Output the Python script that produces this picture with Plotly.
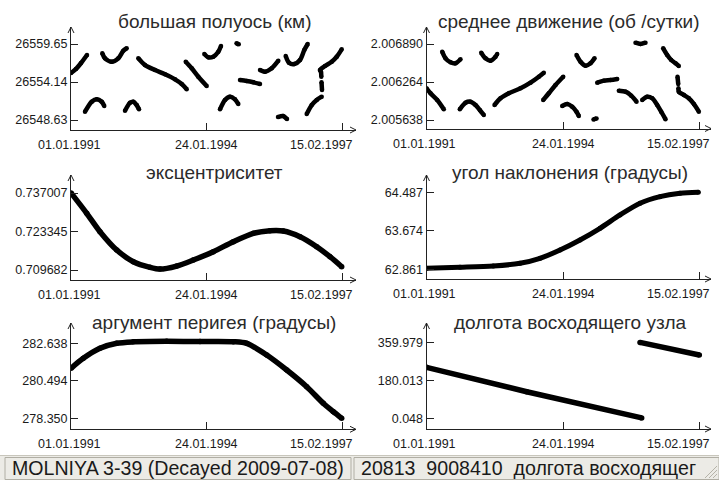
import plotly.graph_objects as go

W, H = 719, 480

# ---------------- data (x = years elapsed since 01.01.1991) ----------------
x_tickvals = [0.0, 3.063, 6.123]
x_ticktext = ["01.01.1991", "24.01.1994", "15.02.1997"]

titles = [
    "большая полуось (км)",
    "среднее движение (об /сутки)",
    "эксцентриситет",
    "угол наклонения (градусы)",
    "аргумент перигея (градусы)",
    "долгота восходящего узла",
]

y_tickvals = [
    [26548.63, 26554.14, 26559.65],
    [2.005638, 2.006264, 2.006890],
    [0.709682, 0.723345, 0.737007],
    [62.861, 63.674, 64.487],
    [278.350, 280.494, 282.638],
    [0.048, 180.013, 359.979],
]
y_ticktext = [
    ["26548.63", "26554.14", "26559.65"],
    ["2.005638", "2.006264", "2.006890"],
    ["0.709682", "0.723345", "0.737007"],
    ["62.861", "63.674", "64.487"],
    ["278.350", "280.494", "282.638"],
    ["0.048", "180.013", "359.979"],
]

semi_major_t = [
    [0, 0.113, 0.226, 0.361],
    [0.316, 0.468, 0.581, 0.694, 0.752],
    [0.707, 0.768, 0.920, 1.069, 1.182, 1.258],
    [1.220, 1.333, 1.408, 1.484, 1.536],
    [1.521, 1.672, 1.898, 2.124, 2.350, 2.501, 2.614],
    [2.592, 2.727, 2.876, 3.066],
    [3.012, 3.102, 3.215, 3.328, 3.389],
    [3.74, 3.79],
    [3.366, 3.479, 3.592, 3.705, 3.780],
    [3.818, 3.970, 4.119, 4.270],
    [4.270, 4.383, 4.535, 4.684],
    [4.677, 4.790, 4.880],
    [4.851, 4.925, 5.045, 5.174, 5.271, 5.348],
    [5.325, 5.438, 5.551, 5.664],
    [5.671, 5.660],
    [5.655, 5.648, 5.626, 5.739, 5.890, 6.003, 6.116],
]
semi_major_v = [
    [26555.45, 26556.03, 26556.89, 26558.06],
    [26549.83, 26551.28, 26551.63, 26551.28, 26550.66],
    [26558.30, 26557.58, 26557.08, 26557.58, 26558.68, 26559.03],
    [26549.98, 26551.14, 26551.28, 26550.80, 26550.18],
    [26557.58, 26556.60, 26555.88, 26555.26, 26554.53, 26553.85, 26553.08],
    [26557.08, 26556.13, 26554.91, 26553.56],
    [26558.20, 26557.72, 26557.81, 26558.53, 26559.36],
    [26559.75, 26559.60],
    [26550.18, 26551.53, 26552.01, 26551.63, 26550.95],
    [26554.43, 26554.29, 26554.10, 26553.85],
    [26555.88, 26555.63, 26556.13, 26557.23],
    [26549.06, 26549.21, 26548.77],
    [26557.91, 26556.94, 26556.75, 26557.33, 26558.78, 26559.65],
    [26549.50, 26550.80, 26551.53, 26552.01],
    [26553.00, 26554.10],
    [26554.90, 26555.59, 26555.88, 26556.46, 26557.08, 26557.81, 26558.88],
]

mean_motion_t = [
    [0, 0.090, 0.240, 0.388],
    [0.352, 0.426, 0.538, 0.650, 0.762],
    [0.747, 0.875, 0.987, 1.099, 1.195, 1.285],
    [1.227, 1.323, 1.435, 1.547, 1.586],
    [1.525, 1.660, 1.846, 2.108, 2.332, 2.519, 2.631],
    [2.617, 2.743, 2.893, 3.066],
    [3.043, 3.155, 3.268, 3.364, 3.416],
    [3.364, 3.454, 3.566, 3.678, 3.768],
    [3.745, 3.813],
    [3.828, 3.976, 4.126, 4.277],
    [4.313, 4.463, 4.591, 4.710],
    [4.687, 4.799, 4.911],
    [4.837, 4.950, 5.062, 5.174, 5.263, 5.360],
    [5.308, 5.398, 5.488, 5.584, 5.658],
    [5.629, 5.645],
    [5.650, 5.658, 5.770, 5.882, 5.995, 6.107],
]
mean_motion_v = [
    [2.006160, 2.006078, 2.005968, 2.005815],
    [2.006763, 2.006654, 2.006589, 2.006572, 2.006638],
    [2.005815, 2.005923, 2.005940, 2.005885, 2.005803, 2.005721],
    [2.006747, 2.006654, 2.006615, 2.006681, 2.006725],
    [2.005885, 2.005996, 2.006078, 2.006160, 2.006253, 2.006351, 2.006417],
    [2.005968, 2.006078, 2.006215, 2.006351],
    [2.005869, 2.005902, 2.005857, 2.005775, 2.005704],
    [2.006709, 2.006598, 2.006533, 2.006572, 2.006654],
    [2.005647, 2.005663],
    [2.006253, 2.006286, 2.006297, 2.006314],
    [2.006121, 2.006104, 2.006039, 2.005940],
    [2.006911, 2.006890, 2.006911],
    [2.005968, 2.006022, 2.005996, 2.005885, 2.005775, 2.005650],
    [2.006819, 2.006709, 2.006626, 2.006572, 2.006528],
    [2.006351, 2.006230],
    [2.006160, 2.006104, 2.006050, 2.005996, 2.005902, 2.005775],
]

ecc_t = [[0, 0.355, 0.655, 1.033, 1.408, 1.785, 2.011, 2.388, 2.763, 3.215, 3.667,
          4.119, 4.496, 4.797, 5.174, 5.551, 5.852, 6.116]]
ecc_v = [[0.73705, 0.72980, 0.72327, 0.71677, 0.71262, 0.71063, 0.71000, 0.71109,
          0.71322, 0.71617, 0.71972, 0.72270, 0.72362, 0.72352, 0.72149, 0.71794,
          0.71439, 0.71084]]

incl_t = [[0, 0.751, 1.498, 2.097, 2.545, 2.994, 3.442, 3.891, 4.339, 4.788, 5.236,
           5.685, 6.096]]
incl_v = [[62.882, 62.903, 62.930, 62.987, 63.093, 63.268, 63.480, 63.727, 64.008,
           64.255, 64.394, 64.466, 64.487]]

argp_t = [[0, 0.278, 0.655, 1.033, 1.408, 2.162, 2.915, 3.667, 3.970, 4.422, 4.874,
           5.325, 5.700, 5.926, 6.116]]
argp_v = [[281.209, 281.780, 282.352, 282.638, 282.72, 282.75, 282.74, 282.73,
           282.638, 281.969, 281.112, 280.157, 279.208, 278.728, 278.350]]

raan_t = [[0, 2.247, 4.826], [4.788, 6.118]]
raan_v = [[241.6, 126.0, 2.0], [359.5, 299.8]]

series_t = [semi_major_t, mean_motion_t, ecc_t, incl_t, argp_t, raan_t]
series_v = [semi_major_v, mean_motion_v, ecc_v, incl_v, argp_v, raan_v]
series_width = [4.5, 4.5, 5.5, 5.0, 5.5, 5.5]

status_left = "MOLNIYA 3-39 (Decayed 2009-07-08)"
status_right = "20813\u00a0\u00a09008410\u00a0\u00a0долгота восходящег"

# ---------------- layout geometry (pixels) ----------------
# (x0, x1, y_top, y_bottom, x_range_end, y_range)
panels = [
    (71.0, 356.0, 27.0, 130.0, 6.439, [26547.18, 26562.12]),
    (426.5, 711.0, 27.0, 128.5, 6.380, [2.005498, 2.00717]),
    (71.0, 356.0, 175.0, 280.0, 6.439, [0.706133, 0.743395]),
    (426.5, 711.0, 175.0, 279.0, 6.380, [62.656, 64.852]),
    (71.0, 356.0, 323.0, 429.3, 6.439, [277.721, 283.799]),
    (426.5, 711.0, 323.0, 429.0, 6.380, [-50.63, 451.4]),
]
title_pos = [(214, 22), (569, 22), (214, 173), (570, 173), (214, 322), (570, 322)]

FONT = "Liberation Sans, Arial, sans-serif"
INK = "#1a1a1a"
TITLE_INK = "#2b2b2b"


def pxx(x):
    return x / W


def pxy(y):
    return 1 - y / H


fig = go.Figure()
layout = dict(
    width=W, height=H, margin=dict(l=0, r=0, t=0, b=0, pad=0),
    paper_bgcolor="white", plot_bgcolor="white", showlegend=False,
    template="none", font=dict(family=FONT, color=INK),
)
annotations = []
shapes = []

for i, (x0, x1, yt, yb, xr, yr) in enumerate(panels):
    n = i + 1
    xa = "x" if n == 1 else f"x{n}"
    ya = "y" if n == 1 else f"y{n}"
    xs, ys = [], []
    for seg_t, seg_v in zip(series_t[i], series_v[i]):
        xs += list(seg_t) + [None]
        ys += list(seg_v) + [None]
    fig.add_trace(go.Scatter(
        x=xs, y=ys, mode="lines+markers", xaxis=xa, yaxis=ya,
        line=dict(color="black", width=series_width[i], shape="spline", smoothing=0.8),
        marker=dict(color="black", size=series_width[i]), connectgaps=False,
        hoverinfo="skip"))
    xkey = "xaxis" if n == 1 else f"xaxis{n}"
    ykey = "yaxis" if n == 1 else f"yaxis{n}"
    layout[xkey] = dict(
        domain=[pxx(x0), pxx(x1)], anchor=ya, range=[0, xr],
        showgrid=False, zeroline=False, showline=True, linecolor="#222",
        linewidth=1, ticks="inside", ticklen=7, tickcolor="#222",
        tickvals=x_tickvals, showticklabels=False, automargin=False, fixedrange=True)
    layout[ykey] = dict(
        domain=[pxy(yb), pxy(yt)], anchor=xa, range=yr,
        showgrid=False, zeroline=False, showline=True, linecolor="#222",
        linewidth=1, ticks="inside", ticklen=7, tickcolor="#222",
        tickvals=y_tickvals[i], ticktext=y_ticktext[i],
        tickfont=dict(family=FONT, size=12.5, color=INK),
        automargin=False, fixedrange=True)
    # x tick labels
    for k, (tv, tt) in enumerate(zip(x_tickvals, x_ticktext)):
        annotations.append(dict(
            x=tv, y=0, xref=xa, yref=f"{ya} domain", text=tt, showarrow=False,
            xanchor="center", yanchor="top", yshift=-6,
            xshift=(-21 if k == 2 else (-2 if k == 0 else 0)),
            font=dict(family=FONT, size=12.5, color=INK)))
    # title
    tx, ty = title_pos[i]
    annotations.append(dict(
        x=pxx(tx), y=pxy(ty), xref="paper", yref="paper", text=titles[i],
        showarrow=False, xanchor="center", yanchor="middle",
        font=dict(family=FONT, size=19, color=TITLE_INK)))
    # axis arrowheads
    shapes.append(dict(type="path", xref="paper", yref="paper",
                       path=f"M{pxx(x0-3)},{pxy(yt+6)} L{pxx(x0)},{pxy(yt)} L{pxx(x0+3)},{pxy(yt+6)}",
                       line=dict(color="#222", width=1)))
    shapes.append(dict(type="path", xref="paper", yref="paper",
                       path=f"M{pxx(x1-6)},{pxy(yb-3)} L{pxx(x1)},{pxy(yb)} L{pxx(x1-6)},{pxy(yb+3)}",
                       line=dict(color="#222", width=1)))

# status bar
shapes.append(dict(type="rect", xref="paper", yref="paper", x0=0, x1=1,
                   y0=0, y1=pxy(455), fillcolor="#ECEBE6", line=dict(width=0), layer="below"))
shapes.append(dict(type="line", xref="paper", yref="paper", x0=0, x1=1,
                   y0=pxy(455.5), y1=pxy(455.5), line=dict(color="#C8C6BC", width=1)))
for (a, b) in [(5, 351), (354, 719)]:
    shapes.append(dict(type="rect", xref="paper", yref="paper", x0=pxx(a), x1=pxx(b),
                       y0=pxy(479.5), y1=pxy(457.5), fillcolor="rgba(0,0,0,0)",
                       line=dict(color="#B0AEA4", width=1)))
for d in (4, 8, 12):
    shapes.append(dict(type="line", xref="paper", yref="paper",
                       x0=pxx(717 - d), y0=pxy(478), x1=pxx(717), y1=pxy(478 - d),
                       line=dict(color="#B5B3A8", width=1)))

annotations.append(dict(x=pxx(10), y=pxy(468), xref="paper", yref="paper",
                        text=status_left, showarrow=False, xanchor="left", yanchor="middle",
                        font=dict(family=FONT, size=19.6, color=INK)))
annotations.append(dict(x=pxx(359), y=pxy(468), xref="paper", yref="paper",
                        text=status_right, showarrow=False, xanchor="left", yanchor="middle",
                        font=dict(family=FONT, size=19.6, color=INK)))

layout["annotations"] = annotations
layout["shapes"] = shapes
fig.update_layout(**layout)
fig.write_html("out.html", config={"displayModeBar": False})
